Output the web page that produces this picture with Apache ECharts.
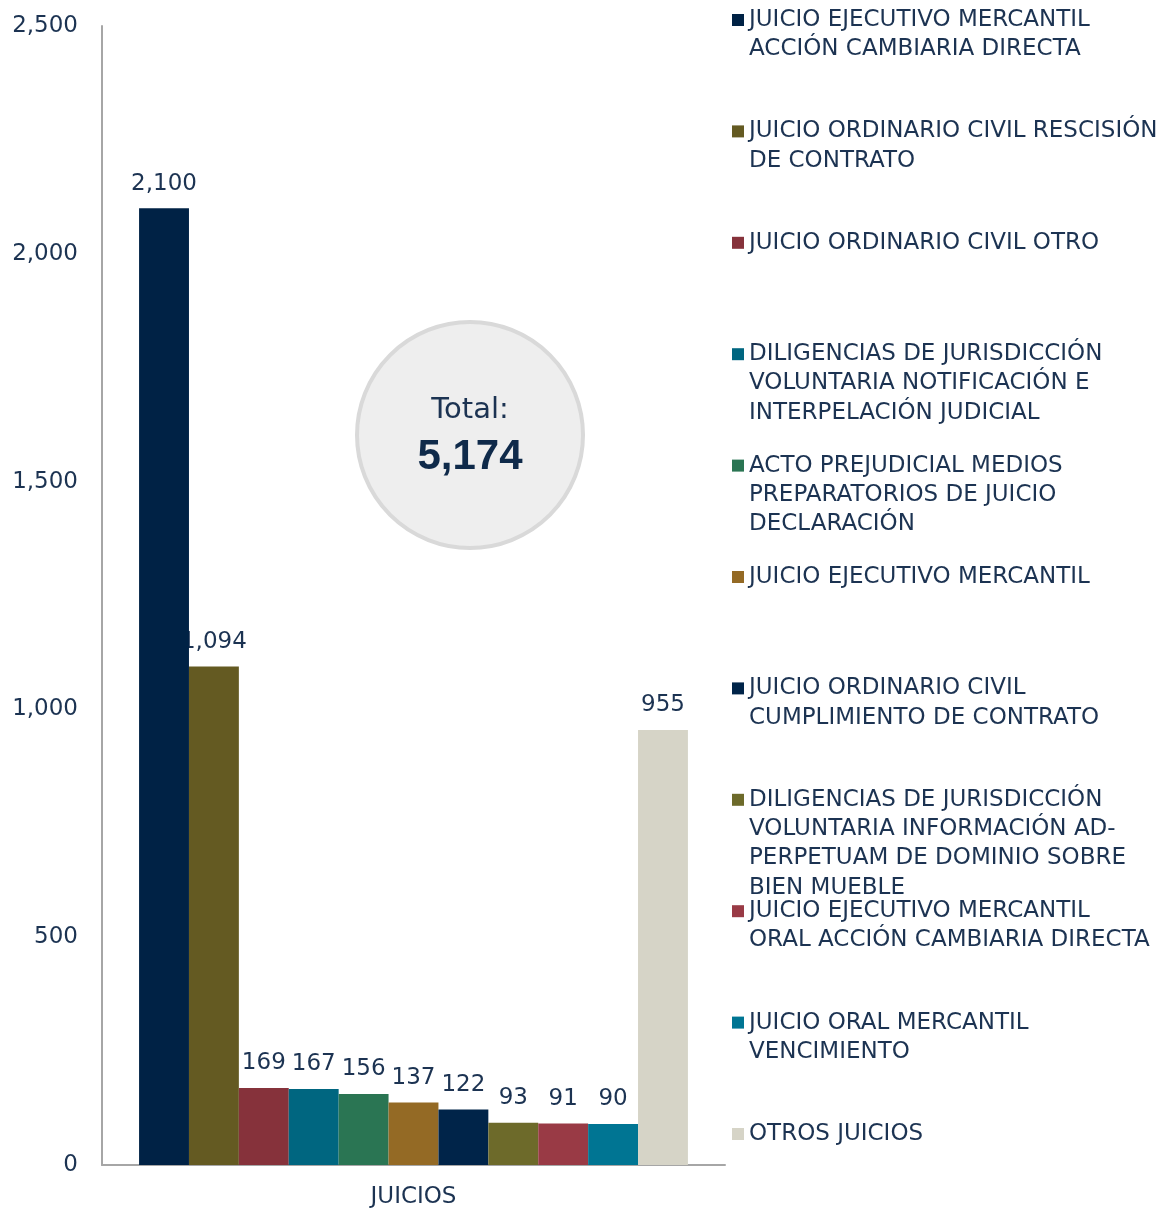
<!DOCTYPE html>
<html>
<head>
<meta charset="utf-8">
<script src="https://cdn.jsdelivr.net/npm/echarts@6/dist/echarts.min.js"></script>
<style>
  html, body { margin: 0; padding: 0; background: #fff; }
  #chart { width: 1174px; height: 1213px; }
</style>
</head>
<body>
<div id="chart"></div>
<script>
// data
const categories = ["JUICIOS"];
const seriesNames = [
  "JUICIO EJECUTIVO MERCANTIL\nACCIÓN CAMBIARIA DIRECTA",
  "JUICIO ORDINARIO CIVIL RESCISIÓN\nDE CONTRATO",
  "JUICIO ORDINARIO CIVIL OTRO",
  "DILIGENCIAS DE JURISDICCIÓN\nVOLUNTARIA NOTIFICACIÓN E\nINTERPELACIÓN JUDICIAL",
  "ACTO PREJUDICIAL MEDIOS\nPREPARATORIOS DE JUICIO\nDECLARACIÓN",
  "JUICIO EJECUTIVO MERCANTIL",
  "JUICIO ORDINARIO CIVIL\nCUMPLIMIENTO DE CONTRATO",
  "DILIGENCIAS DE JURISDICCIÓN\nVOLUNTARIA INFORMACIÓN AD-\nPERPETUAM DE DOMINIO SOBRE\nBIEN MUEBLE",
  "JUICIO EJECUTIVO MERCANTIL\nORAL ACCIÓN CAMBIARIA DIRECTA",
  "JUICIO ORAL MERCANTIL\nVENCIMIENTO",
  "OTROS JUICIOS",
];
const seriesValues = [2100, 1094, 169, 167, 156, 137, 122, 93, 91, 90, 955];
const seriesColors = [
  "#002245", "#645a22", "#86323b", "#006680", "#2a7553", "#946a25",
  "#002449", "#6d6a2a", "#993a45", "#007593", "#d6d4c7",
];
const yTicks = [0, 500, 1000, 1500, 2000, 2500];

const FONT = "DejaVu Sans";
const TEXT = "#1c3352";
const fmt = (v) => Number(v).toLocaleString("en-US");
const total = seriesValues.reduce((a, b) => a + b, 0);

const chart = echarts.init(document.getElementById("chart"));

// legend: one block per entry; blank lines on top so the square sits on the first line
const LINE = 29.3;
const legends = seriesNames.map((name, i) => {
  const n = name.split("\n").length;
  const blockH = (2 * n - 1) * LINE;
  const center = 20 + i * 111.4;
  return {
    left: 732,
    top: center - blockH / 2,
    padding: 0,
    orient: "vertical",
    selectedMode: false,
    itemWidth: 12,
    itemHeight: 12,
    itemGap: 0,
    icon: "rect",
    data: [name],
    formatter: (nm) => "\n".repeat(n - 1) + nm,
    textStyle: {
      fontFamily: FONT,
      fontSize: 23,
      color: TEXT,
      lineHeight: LINE,
    },
  };
});

chart.setOption({
  backgroundColor: "#fff",
  animation: false,
  grid: { left: 102, right: 449, top: 26, bottom: 48 },
  legend: legends,
  xAxis: {
    type: "category",
    data: categories,
    axisLine: { lineStyle: { color: "#a6a6a6", width: 2 } },
    axisTick: { show: false },
    axisLabel: {
      fontFamily: FONT,
      fontSize: 23,
      color: TEXT,
      margin: 21,
    },
  },
  yAxis: {
    type: "value",
    min: yTicks[0],
    max: yTicks[yTicks.length - 1],
    interval: yTicks[1] - yTicks[0],
    axisLine: { show: true, lineStyle: { color: "#a6a6a6", width: 2 } },
    axisTick: { show: false },
    splitLine: { show: false },
    axisLabel: {
      fontFamily: FONT,
      fontSize: 23,
      color: TEXT,
      margin: 24,
      formatter: (v) => fmt(v),
    },
  },
  series: seriesNames.map((name, i) => ({
    name,
    type: "bar",
    z: i === 0 ? 3 : 2,
    barGap: "0%",
    barCategoryGap: "11.9%",
    itemStyle: { color: seriesColors[i] },
    label: {
      show: true,
      position: "top",
      distance: 13,
      fontFamily: FONT,
      fontSize: 23,
      color: TEXT,
      formatter: (p) => fmt(p.value),
    },
    data: [seriesValues[i]],
  })),
  graphic: [
    {
      type: "circle",
      shape: { cx: 470, cy: 435, r: 113 },
      style: { fill: "#eeeeee", stroke: "#d9d9d9", lineWidth: 4 },
      z: 10,
    },
    {
      type: "text",
      x: 470,
      y: 410,
      z: 11,
      style: {
        text: "Total:",
        fontFamily: FONT,
        fontSize: 29,
        fill: TEXT,
        align: "center",
        verticalAlign: "middle",
      },
    },
    {
      type: "text",
      x: 470,
      y: 457,
      z: 11,
      style: {
        text: fmt(total),
        fontFamily: "Liberation Sans",
        fontSize: 42,
        fontWeight: "bold",
        fill: "#0f2a4a",
        align: "center",
        verticalAlign: "middle",
      },
    },
  ],
});
</script>
</body>
</html>
